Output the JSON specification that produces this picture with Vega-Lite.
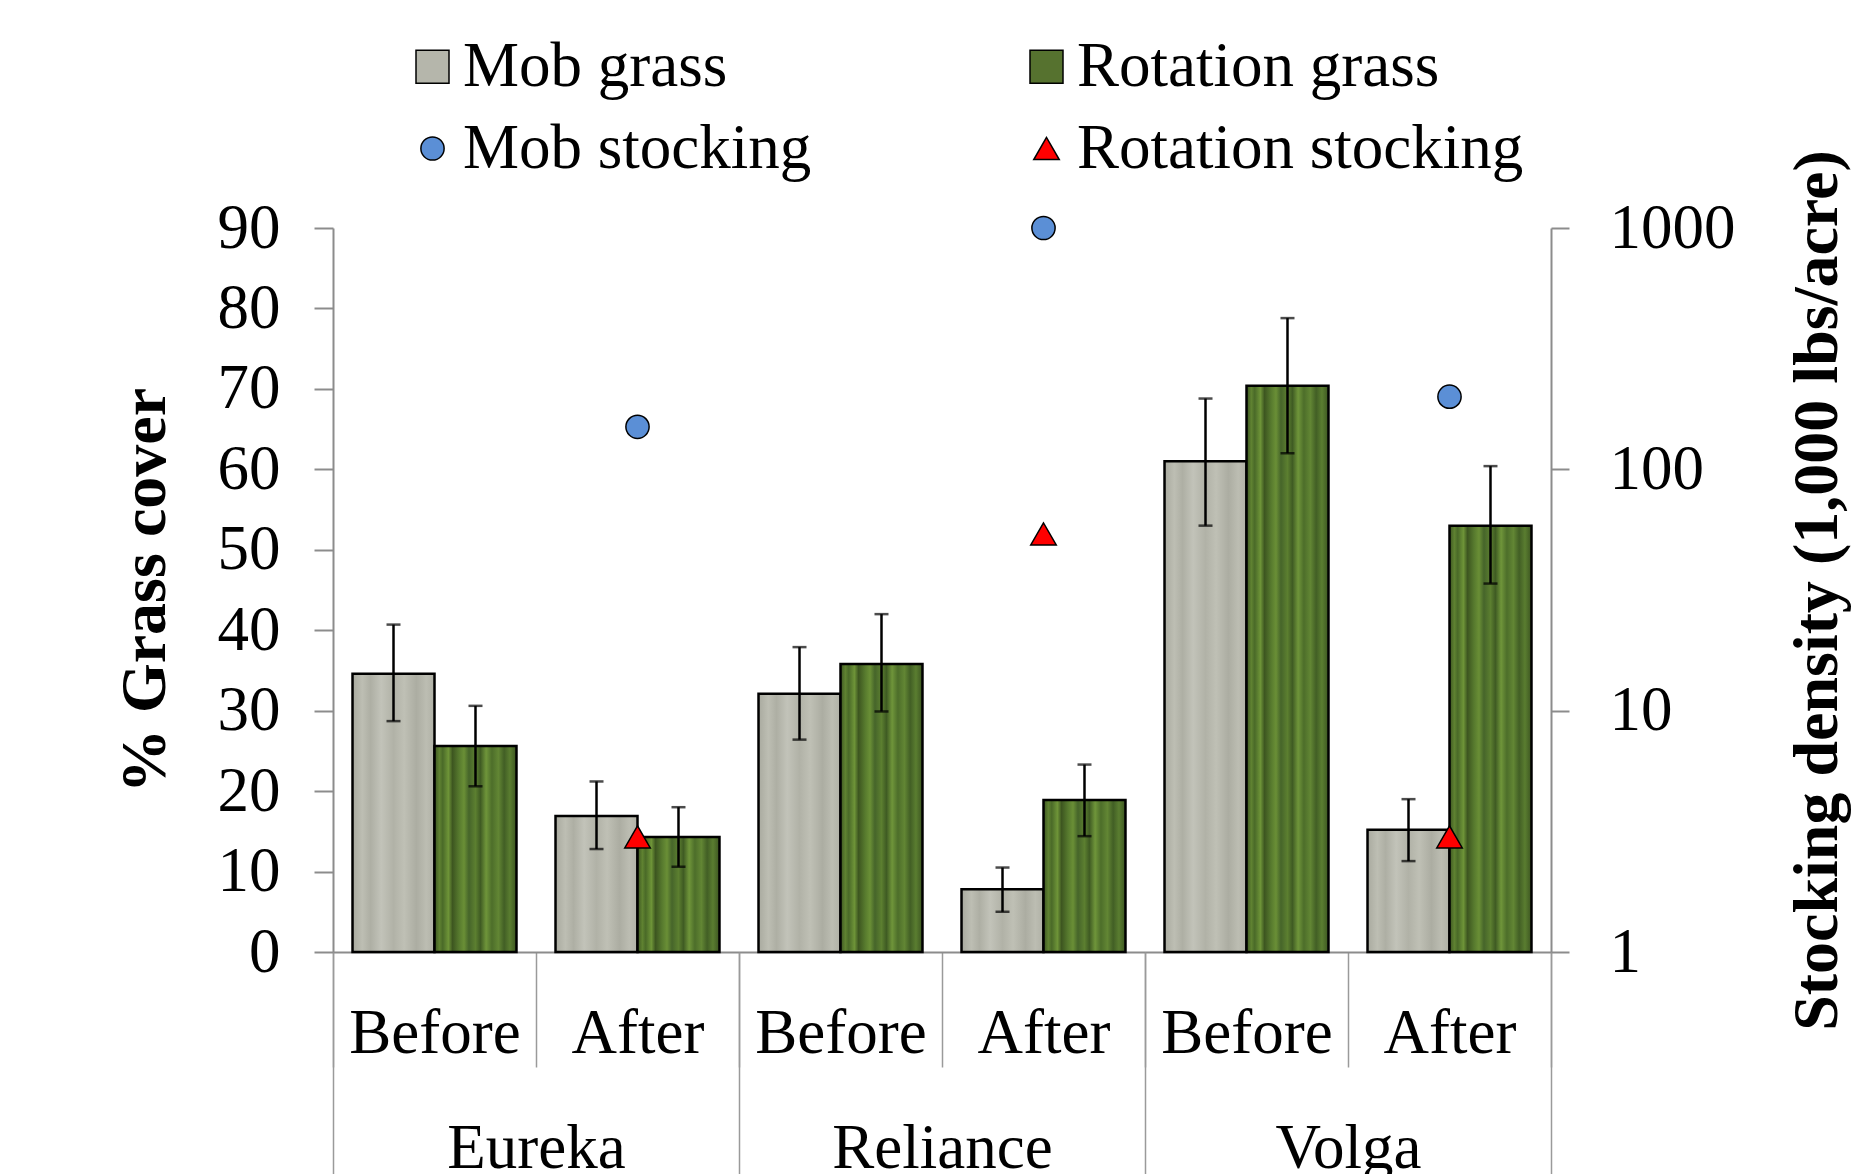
{
  "$schema": "https://vega.github.io/schema/vega-lite/v6.json",
  "width": 1218,
  "height": 724,
  "autosize": {"type": "none"},
  "padding": {"left": 333, "top": 228, "right": 309, "bottom": 222},
  "background": "white",
  "config": {
    "view": {"stroke": null},
    "font": "Liberation Serif",
    "axis": {"labelFont": "Liberation Serif", "titleFont": "Liberation Serif", "labelColor": "black", "titleColor": "black", "grid": false, "labelLimit": 1000}
  },
  "datasets": {
    "bars": [
      {"cat": "Eureka Before", "site": "Eureka", "series": "Mob grass", "cover": 34.6, "lo": 28.7, "hi": 40.7},
      {"cat": "Eureka Before", "site": "Eureka", "series": "Rotation grass", "cover": 25.6, "lo": 20.6, "hi": 30.6},
      {"cat": "Eureka After", "site": "Eureka", "series": "Mob grass", "cover": 16.9, "lo": 12.8, "hi": 21.2},
      {"cat": "Eureka After", "site": "Eureka", "series": "Rotation grass", "cover": 14.3, "lo": 10.6, "hi": 18.0},
      {"cat": "Reliance Before", "site": "Reliance", "series": "Mob grass", "cover": 32.1, "lo": 26.4, "hi": 37.9},
      {"cat": "Reliance Before", "site": "Reliance", "series": "Rotation grass", "cover": 35.8, "lo": 29.9, "hi": 42.0},
      {"cat": "Reliance After", "site": "Reliance", "series": "Mob grass", "cover": 7.8, "lo": 5.0, "hi": 10.5},
      {"cat": "Reliance After", "site": "Reliance", "series": "Rotation grass", "cover": 18.9, "lo": 14.4, "hi": 23.3},
      {"cat": "Volga Before", "site": "Volga", "series": "Mob grass", "cover": 61.0, "lo": 53.0, "hi": 68.8},
      {"cat": "Volga Before", "site": "Volga", "series": "Rotation grass", "cover": 70.4, "lo": 62.0, "hi": 78.8},
      {"cat": "Volga After", "site": "Volga", "series": "Mob grass", "cover": 15.2, "lo": 11.3, "hi": 19.0},
      {"cat": "Volga After", "site": "Volga", "series": "Rotation grass", "cover": 53.0, "lo": 45.8, "hi": 60.4}
    ],
    "stock": [
      {"cat": "Eureka After", "series": "Mob stocking", "density": 150},
      {"cat": "Eureka After", "series": "Rotation stocking", "density": 3},
      {"cat": "Reliance After", "series": "Mob stocking", "density": 1000},
      {"cat": "Reliance After", "series": "Rotation stocking", "density": 54},
      {"cat": "Volga After", "series": "Mob stocking", "density": 200},
      {"cat": "Volga After", "series": "Rotation stocking", "density": 3}
    ]
  },
  "layer": [
    {
      "data": {"name": "bars"},
      "layer": [
        {
          "mark": {"type": "bar", "stroke": "black", "strokeWidth": 2.5},
          "encoding": {
            "x": {
              "field": "cat", "type": "nominal", "title": null,
              "scale": {"type": "band", "domain": ["Eureka Before", "Eureka After", "Reliance Before", "Reliance After", "Volga Before", "Volga After"], "paddingInner": 0, "paddingOuter": 0},
              "axis": {
                "orient": "bottom", "tickBand": "extent", "tickSize": 115, "tickWidth": 1.5, "tickColor": "#9a9a9a",
                "domainColor": "#8c8c8c", "domainWidth": 2, "labelFontSize": 63, "labelPadding": -65, "labelLimit": 1000,
                "labelAngle": 0, "labelBaseline": "top", "labelExpr": "split(datum.label, ' ')[1]"
              }
            },
            "xOffset": {"field": "series", "type": "nominal", "scale": {"domain": ["Mob grass", "Rotation grass"], "paddingOuter": 0.238, "paddingInner": 0}},
            "y": {
              "field": "cover", "type": "quantitative", "title": "% Grass cover",
              "scale": {"domain": [0, 90], "nice": false},
              "axis": {
                "orient": "left", "values": [0, 10, 20, 30, 40, 50, 60, 70, 80, 90], "tickSize": 19, "tickWidth": 2, "tickColor": "#8c8c8c",
                "domainColor": "#8c8c8c", "domainWidth": 2, "labelFontSize": 63, "labelPadding": 34,
                "titleFontSize": 64, "titleFontWeight": "bold", "titlePadding": 40
              }
            },
            "color": {
              "condition": {
                "test": "datum.series == 'Mob grass'",
                "value": {"gradient": "linear", "x1": 0, "y1": 0, "x2": 1, "y2": 0, "stops": [
                  {"offset": 0, "color": "#a9aa9f"}, {"offset": 0.12, "color": "#bdbeb3"}, {"offset": 0.22, "color": "#aeafa4"},
                  {"offset": 0.35, "color": "#c2c3b9"}, {"offset": 0.5, "color": "#b1b2a7"}, {"offset": 0.63, "color": "#bfc0b5"},
                  {"offset": 0.78, "color": "#acada2"}, {"offset": 0.9, "color": "#bcbdb2"}, {"offset": 1, "color": "#b0b1a6"}
                ]}
              },
              "value": {"gradient": "linear", "x1": 0, "y1": 0, "x2": 1, "y2": 0, "stops": [
                {"offset": 0, "color": "#3c5521"}, {"offset": 0.06, "color": "#5f8231"}, {"offset": 0.1, "color": "#4a6a28"},
                {"offset": 0.17, "color": "#6e9438"}, {"offset": 0.22, "color": "#3d5620"}, {"offset": 0.3, "color": "#577a2e"},
                {"offset": 0.36, "color": "#6a8f36"}, {"offset": 0.42, "color": "#46652a"}, {"offset": 0.5, "color": "#5c7f30"},
                {"offset": 0.56, "color": "#3f5b23"}, {"offset": 0.63, "color": "#6f953a"}, {"offset": 0.7, "color": "#4d6e2a"},
                {"offset": 0.78, "color": "#628634"}, {"offset": 0.85, "color": "#425f25"}, {"offset": 0.92, "color": "#5a7d30"},
                {"offset": 1, "color": "#3c5521"}
              ]}
            }
          }
        },
        {
          "mark": {"type": "rule", "color": "black", "strokeWidth": 2.5},
          "encoding": {
            "x": {"field": "cat", "type": "nominal", "title": null},
            "xOffset": {"field": "series", "type": "nominal"},
            "y": {"field": "lo", "type": "quantitative", "title": "% Grass cover"},
            "y2": {"field": "hi"}
          }
        },
        {
          "mark": {"type": "tick", "color": "black", "thickness": 2.5, "size": 14},
          "encoding": {
            "x": {"field": "cat", "type": "nominal", "title": null},
            "xOffset": {"field": "series", "type": "nominal"},
            "y": {"field": "lo", "type": "quantitative", "title": "% Grass cover"}
          }
        },
        {
          "mark": {"type": "tick", "color": "black", "thickness": 2.5, "size": 14},
          "encoding": {
            "x": {"field": "cat", "type": "nominal", "title": null},
            "xOffset": {"field": "series", "type": "nominal"},
            "y": {"field": "hi", "type": "quantitative", "title": "% Grass cover"}
          }
        }
      ]
    },
    {
      "data": {"name": "stock"},
      "mark": {"type": "point", "filled": true, "stroke": "black", "strokeWidth": 1.5, "opacity": 1},
      "encoding": {
        "x": {
          "field": "cat", "type": "nominal", "title": null,
          "scale": {"type": "band", "domain": ["Eureka Before", "Eureka After", "Reliance Before", "Reliance After", "Volga Before", "Volga After"], "paddingInner": 0, "paddingOuter": 0},
          "axis": null
        },
        "y": {
          "field": "density", "type": "quantitative", "title": "Stocking density (1,000 lbs/acre)",
          "scale": {"type": "log", "domain": [1, 1000], "nice": false},
          "axis": {
            "orient": "right", "values": [1, 10, 100, 1000], "format": "d", "tickSize": 18, "tickWidth": 2, "tickColor": "#8c8c8c",
            "domainColor": "#8c8c8c", "domainWidth": 2, "labelFontSize": 63, "labelPadding": 40,
            "titleFontSize": 64, "titleFontWeight": "bold", "titleAngle": 270, "titleBaseline": "top", "titlePadding": 50
          }
        },
        "color": {
          "field": "series", "type": "nominal",
          "scale": {"domain": ["Mob grass", "Rotation grass", "Mob stocking", "Rotation stocking"], "range": ["#b5b6ab", "#56722f", "#5b8fd6", "#ff0000"]},
          "legend": {
            "title": null, "orient": "none", "legendX": 73, "legendY": -193, "columns": 2, "columnPadding": 208, "rowPadding": 18,
            "values": ["Mob grass", "Mob stocking", "Rotation grass", "Rotation stocking"],
            "labelFont": "Liberation Serif", "labelFontSize": 63, "labelColor": "black", "labelLimit": 1000, "labelOffset": -1,
            "symbolOffset": -5, "symbolStrokeColor": "black", "symbolStrokeWidth": 1.5, "padding": 0
          }
        },
        "shape": {
          "field": "series", "type": "nominal",
          "scale": {"domain": ["Mob grass", "Rotation grass", "Mob stocking", "Rotation stocking"], "range": ["square", "square", "circle", "triangle-up"]},
          "legend": {
            "title": null, "orient": "none", "legendX": 73, "legendY": -193, "columns": 2, "columnPadding": 208, "rowPadding": 18,
            "values": ["Mob grass", "Mob stocking", "Rotation grass", "Rotation stocking"],
            "labelFont": "Liberation Serif", "labelFontSize": 63, "labelColor": "black", "labelLimit": 1000, "labelOffset": -1,
            "symbolOffset": -5, "symbolStrokeColor": "black", "symbolStrokeWidth": 1.5, "padding": 0
          }
        },
        "size": {
          "field": "series", "type": "nominal",
          "scale": {"type": "ordinal", "domain": ["Mob grass", "Rotation grass", "Mob stocking", "Rotation stocking"], "range": [1089, 1089, 540, 650]},
          "legend": {
            "title": null, "orient": "none", "legendX": 73, "legendY": -193, "columns": 2, "columnPadding": 208, "rowPadding": 18,
            "values": ["Mob grass", "Mob stocking", "Rotation grass", "Rotation stocking"],
            "labelFont": "Liberation Serif", "labelFontSize": 63, "labelColor": "black", "labelLimit": 1000, "labelOffset": -1,
            "symbolOffset": -5, "symbolStrokeColor": "black", "symbolStrokeWidth": 1.5, "padding": 0
          }
        }
      }
    },
    {
      "data": {"name": "bars"},
      "mark": {"type": "point", "opacity": 0},
      "encoding": {
        "x": {
          "field": "site", "type": "nominal", "title": null,
          "scale": {"type": "band", "domain": ["Eureka", "Reliance", "Volga"], "paddingInner": 0, "paddingOuter": 0},
          "axis": {
            "orient": "bottom", "tickBand": "extent", "tickSize": 230, "tickWidth": 1.5, "tickColor": "#9a9a9a",
            "domain": false, "labelFontSize": 63, "labelPadding": -65, "labelAngle": 0, "labelBaseline": "top", "labelLimit": 1000
          }
        },
        "y": {"field": "cover", "type": "quantitative", "axis": null}
      }
    }
  ],
  "resolve": {"scale": {"x": "independent", "y": "independent"}}
}
